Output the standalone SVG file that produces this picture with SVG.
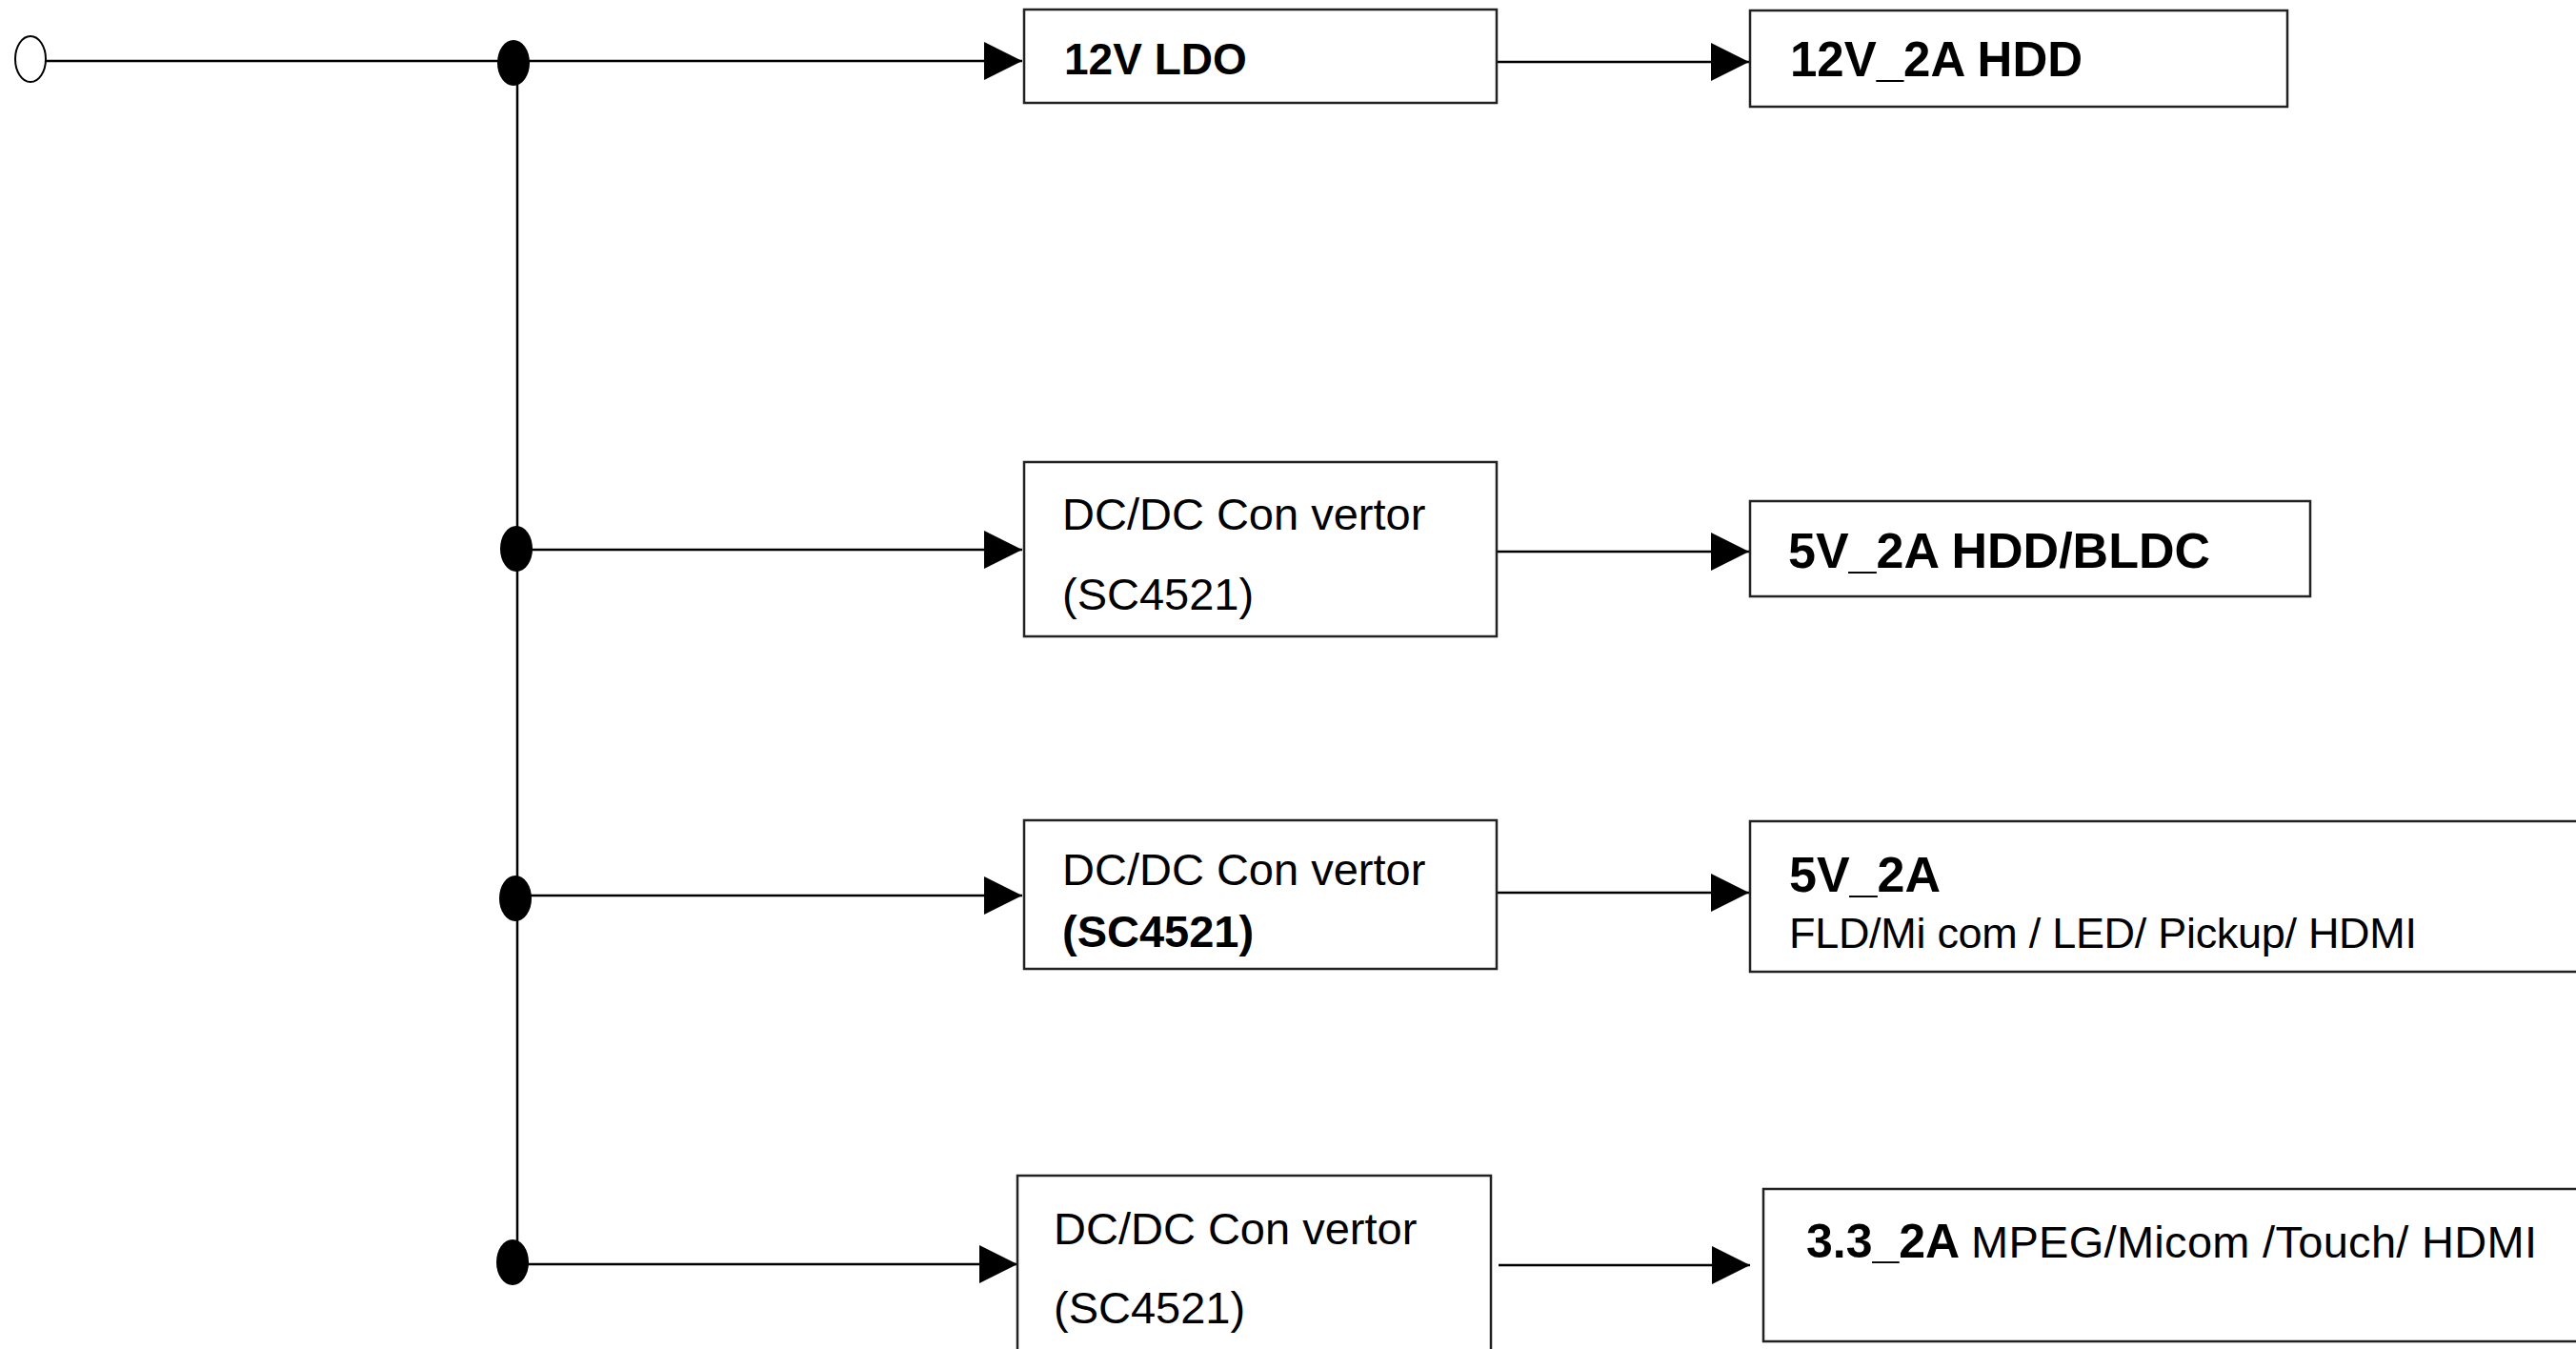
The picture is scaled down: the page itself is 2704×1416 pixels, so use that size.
<svg xmlns="http://www.w3.org/2000/svg" width="2704" height="1416" viewBox="0 0 2704 1416">
  <style>
    .box { fill: #ffffff; stroke: #222222; stroke-width: 2.5; }
    .wire { fill: none; stroke: #000000; stroke-width: 2.5; }
    .dot { fill: #000000; stroke: none; }
    .t { font-family: "Liberation Sans", Arial, Helvetica, sans-serif; fill: #000000; }
    .r { font-size: 47px; }
    .b { font-weight: bold; }
  </style>
  <defs>
    <marker id="arrow" markerUnits="userSpaceOnUse" viewBox="0 0 40 40" refX="40" refY="20" markerWidth="40" markerHeight="40" orient="auto">
      <path d="M0,0 L40,20 L0,40 Z" fill="#000000"/>
    </marker>
  </defs>
  <rect width="2704" height="1416" fill="#ffffff"/>

  <g id="connectors">
    <line class="wire" x1="543" y1="66" x2="543" y2="1326"/>
    <line class="wire" x1="47" y1="64" x2="1073" y2="64" marker-end="url(#arrow)"/>
    <line class="wire" x1="1571" y1="65" x2="1836" y2="65" marker-end="url(#arrow)"/>
    <line class="wire" x1="542" y1="577" x2="1073" y2="577" marker-end="url(#arrow)"/>
    <line class="wire" x1="1571" y1="579" x2="1836" y2="579" marker-end="url(#arrow)"/>
    <line class="wire" x1="541" y1="940" x2="1073" y2="940" marker-end="url(#arrow)"/>
    <line class="wire" x1="1571" y1="937" x2="1836" y2="937" marker-end="url(#arrow)"/>
    <line class="wire" x1="538" y1="1327" x2="1068" y2="1327" marker-end="url(#arrow)"/>
    <line class="wire" x1="1573" y1="1328" x2="1837" y2="1328" marker-end="url(#arrow)"/>
  </g>

  <g id="input-terminal">
    <ellipse cx="32" cy="62" rx="16" ry="24" fill="#ffffff" stroke="#000000" stroke-width="2"/>
  </g>
  <g id="junction-1"><ellipse class="dot" cx="539" cy="66" rx="17" ry="24"/></g>
  <g id="junction-2"><ellipse class="dot" cx="542" cy="576" rx="17" ry="24"/></g>
  <g id="junction-3"><ellipse class="dot" cx="541" cy="943" rx="17" ry="24"/></g>
  <g id="junction-4"><ellipse class="dot" cx="538" cy="1325" rx="17" ry="24"/></g>

  <g id="ldo-12v">
    <rect class="box" x="1075" y="10" width="496" height="98"/>
    <text class="t b" x="1117" y="78" font-size="46">12V LDO</text>
  </g>
  <g id="out-12v-hdd">
    <rect class="box" x="1837" y="11" width="564" height="101"/>
    <text class="t b" x="1879" y="80" font-size="51">12V_2A HDD</text>
  </g>

  <g id="dcdc-1">
    <rect class="box" x="1075" y="485" width="496" height="183"/>
    <text class="t r" x="1115" y="556">DC/DC Con vertor</text>
    <text class="t r" x="1115" y="640">(SC4521)</text>
  </g>
  <g id="out-5v-hdd-bldc">
    <rect class="box" x="1837" y="526" width="588" height="100"/>
    <text class="t b" x="1877" y="596" font-size="52">5V_2A HDD/BLDC</text>
  </g>

  <g id="dcdc-2">
    <rect class="box" x="1075" y="861" width="496" height="156"/>
    <text class="t r" x="1115" y="929">DC/DC Con vertor</text>
    <text class="t r b" x="1115" y="994">(SC4521)</text>
  </g>
  <g id="out-5v-fld">
    <rect class="box" x="1837" y="862" width="900" height="158"/>
    <text class="t b" x="1878" y="936" font-size="52">5V_2A</text>
    <text class="t" x="1878" y="995" font-size="45" textLength="659">FLD/Mi com / LED/ Pickup/ HDMI</text>
  </g>

  <g id="dcdc-3">
    <rect class="box" x="1068" y="1234" width="497" height="200"/>
    <text class="t r" x="1106" y="1306">DC/DC Con vertor</text>
    <text class="t r" x="1106" y="1389">(SC4521)</text>
  </g>
  <g id="out-3v3">
    <rect class="box" x="1851" y="1248" width="900" height="160"/>
    <text class="t" y="1320"><tspan class="b" x="1896" font-size="50">3.3_2A</tspan><tspan x="2069" font-size="47" textLength="594">MPEG/Micom /Touch/ HDMI</tspan></text>
  </g>
</svg>
